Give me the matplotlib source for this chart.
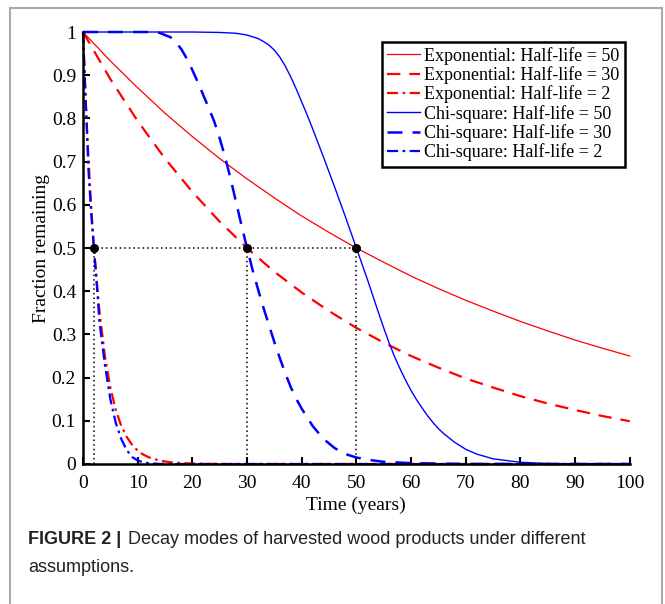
import matplotlib.pyplot as plt
from matplotlib.patches import Rectangle

# === DATA ===
# exponential decay, half-life 50 / 30 / 2
t_exp50 = [0, 5, 10, 15, 20, 25, 30, 35, 40, 45, 50, 55, 60, 65, 70, 75, 80, 85, 90, 95, 100]
y_exp50 = [1, 0.933, 0.871, 0.812, 0.758, 0.707, 0.660, 0.616, 0.574, 0.536, 0.5,
           0.467, 0.435, 0.406, 0.379, 0.354, 0.330, 0.308, 0.287, 0.268, 0.25]

t_exp30 = [0, 5, 10, 15, 20, 25, 30, 35, 40, 45, 50, 55, 60, 65, 70, 75, 80, 85, 90, 95, 100]
y_exp30 = [1, 0.891, 0.794, 0.707, 0.630, 0.561, 0.5, 0.445, 0.397, 0.354, 0.315,
           0.281, 0.25, 0.223, 0.198, 0.177, 0.157, 0.140, 0.125, 0.111, 0.099]

t_exp2 = [0, 0.5, 1, 1.5, 2, 3, 4, 5, 6, 7, 8, 9, 10, 11, 12, 14, 16, 18, 20, 25, 100]
y_exp2 = [1, 0.841, 0.707, 0.595, 0.5, 0.354, 0.25, 0.177, 0.125, 0.088, 0.0625,
          0.044, 0.031, 0.022, 0.0156, 0.0078, 0.0039, 0.002, 0.001, 0, 0]

# chi-square decay, half-life 50 / 30 / 2
t_chi50 = [0, 20, 25, 28, 30, 32, 33, 34, 35, 36, 37, 38, 39, 40, 41, 42, 43, 44, 45,
           46, 47, 48, 49, 50, 51, 52, 53, 54, 55, 56, 57, 58, 59, 60, 61, 62, 63, 64,
           65, 66, 68, 70, 72, 75, 80, 85, 90, 100]
y_chi50 = [1, 1, 0.999, 0.997, 0.993, 0.985, 0.978, 0.970, 0.958, 0.942, 0.921, 0.896,
           0.868, 0.838, 0.808, 0.776, 0.743, 0.710, 0.676, 0.642, 0.607, 0.572, 0.536,
           0.5, 0.464, 0.428, 0.39, 0.352, 0.315, 0.28, 0.248, 0.22, 0.194, 0.17, 0.149,
           0.13, 0.112, 0.096, 0.082, 0.07, 0.05, 0.034, 0.023, 0.012, 0.004, 0.001, 0, 0]

t_chi30 = [0, 12, 14, 16, 17, 18, 19, 20, 21, 22, 23, 24, 25, 26, 27, 28, 29, 30, 31,
           32, 33, 34, 35, 36, 37, 38, 39, 40, 42, 44, 46, 48, 50, 52, 55, 60, 70, 100]
y_chi30 = [1, 1, 0.998, 0.988, 0.976, 0.96, 0.938, 0.912, 0.884, 0.854, 0.824, 0.793,
           0.754, 0.71, 0.66, 0.606, 0.552, 0.5, 0.45, 0.405, 0.362, 0.322, 0.282, 0.245,
           0.21, 0.178, 0.151, 0.128, 0.088, 0.058, 0.037, 0.023, 0.015, 0.01, 0.005,
           0.002, 0, 0]

t_chi2 = [0, 0.5, 1, 1.5, 2, 2.5, 3, 4, 5, 6, 7, 8, 9, 10, 11, 12, 14, 100]
y_chi2 = [1, 0.84, 0.68, 0.58, 0.5, 0.42, 0.33, 0.23, 0.15, 0.095, 0.058, 0.032,
          0.016, 0.008, 0.004, 0.002, 0, 0]

half_lives = [2, 30, 50]

# === SETTINGS ===
plt.rcParams.update({
    'font.family': 'serif',
    'font.serif': ['Liberation Serif', 'DejaVu Serif'],
    'font.size': 14,
})

fig = plt.figure(figsize=(6.65, 6.04), dpi=100)
ax = fig.add_axes([0.1248, 0.2318, 0.8222, 0.7152])

ax.plot(t_exp50, y_exp50, color='#ff0000', lw=0.9, ls='-',
        label='Exponential: Half-life = 50', clip_on=False)
ax.plot(t_exp30, y_exp30, color='#ff0000', lw=1.6, ls=(0, (6, 4)),
        label='Exponential: Half-life = 30', clip_on=False)
ax.plot(t_exp2, y_exp2, color='#ff0000', lw=1.6, ls=(0, (5, 2, 1.2, 2)),
        label='Exponential: Half-life = 2', clip_on=False)
ax.plot(t_chi50, y_chi50, color='#0000ff', lw=1.0, ls='-',
        label='Chi-square: Half-life = 50', clip_on=False)
ax.plot(t_chi30, y_chi30, color='#0000ff', lw=1.8, ls=(0, (6, 4)),
        label='Chi-square: Half-life = 30', clip_on=False)
ax.plot(t_chi2, y_chi2, color='#0000ff', lw=1.6, ls=(0, (5, 2, 1.2, 2)),
        label='Chi-square: Half-life = 2', clip_on=False)

# half-life guides
ax.plot([0, max(half_lives)], [0.5, 0.5], color='black', lw=1.1, ls=(0, (1, 2)))
for hl in half_lives:
    ax.plot([hl, hl], [0, 0.5], color='black', lw=1.1, ls=(0, (1, 2)))
ax.plot(half_lives, [0.5] * len(half_lives), 'o', color='black', ms=5.5, zorder=5)

ax.set_xlim(0, 100)
ax.set_ylim(0, 1)
ax.set_xticks(range(0, 101, 10))
ax.set_yticks([i / 10 for i in range(11)])
ax.set_yticklabels(['0', '0.1', '0.2', '0.3', '0.4', '0.5', '0.6', '0.7', '0.8', '0.9', '1'])
ax.tick_params(direction='in', length=5, width=1.5, labelsize=14)
ax.tick_params(axis='x', pad=8)
ax.tick_params(axis='y', pad=5)
for s in ['top', 'right']:
    ax.spines[s].set_visible(False)
for s in ['left', 'bottom']:
    ax.spines[s].set_linewidth(1.8)
ax.set_xlabel('Time (years)', fontsize=14, labelpad=3)
ax.set_ylabel('Fraction remaining', fontsize=14, labelpad=1)

leg = ax.legend(loc='upper right', bbox_to_anchor=(0.991, 0.978), fontsize=13,
                fancybox=False, framealpha=1, edgecolor='black',
                handlelength=1.8, handletextpad=0.25, labelspacing=0.08,
                borderpad=0.3, borderaxespad=0)
leg.get_frame().set_linewidth(1.8)

# outer frame of the figure panel
fig.patches.append(Rectangle((10 / 665, -0.1), 652 / 665, 1 - 8 / 604 + 0.1,
                             transform=fig.transFigure, fill=False,
                             edgecolor='#aaaaaa', lw=1.5))

# caption
cap_font = ['Liberation Sans', 'DejaVu Sans']
fig.text(28 / 665, 1 - 540 / 604, 'FIGURE 2 |', family=cap_font, weight='bold',
         fontsize=13, va='center', ha='left', color='#222222')
fig.text(128 / 665, 1 - 540 / 604, 'Decay modes of harvested wood products under different',
         family=cap_font, fontsize=13, va='center', ha='left', color='#222222')
fig.text(28 / 665, 1 - 568 / 604, 'assumptions.', family=cap_font, fontsize=13,
         va='center', ha='left', color='#222222')

fig.savefig('out.png', dpi=100)
